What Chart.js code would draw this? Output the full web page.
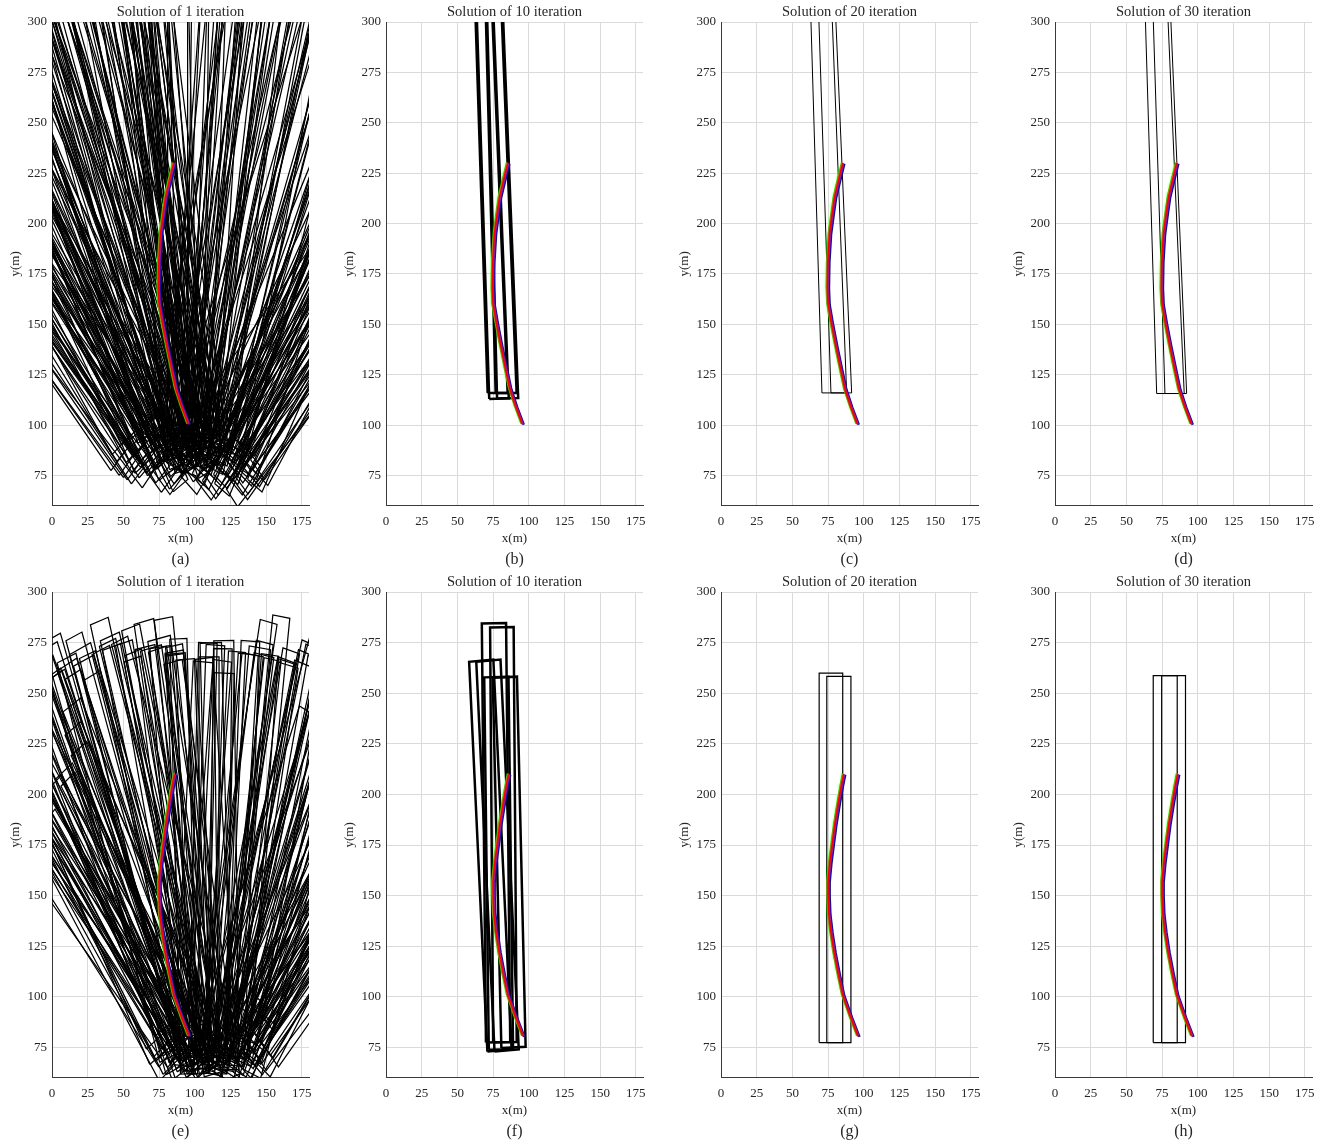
<!DOCTYPE html>
<html>
<head>
<meta charset="utf-8">
<script src="https://cdn.jsdelivr.net/npm/chart.js@4.4.1/dist/chart.umd.min.js"></script>
<style>
  body { margin: 0; background: #fff; overflow: hidden; }
  canvas { position: absolute; }
</style>
</head>
<body>
<script>
// axis ticks
var xTicks = [0, 25, 50, 75, 100, 125, 150, 175];
var yTicks = [75, 100, 125, 150, 175, 200, 225, 250, 275, 300];

var panelTitles = ['Solution of 1 iteration', 'Solution of 10 iteration', 'Solution of 20 iteration', 'Solution of 30 iteration',
                   'Solution of 1 iteration', 'Solution of 10 iteration', 'Solution of 20 iteration', 'Solution of 30 iteration'];
var panelLetters = ['(a)', '(b)', '(c)', '(d)', '(e)', '(f)', '(g)', '(h)'];

// trajectory, top row (x, y)
var redTop   = [[95.7,100.5],[91.2,109],[87,118],[84,128],[80.5,140],[77.5,151],[75.3,160],[74.8,168],[75.1,181],[76.3,195],[78.2,205],[79.8,213],[82.8,222],[85.6,230]];
var greenTop = [[94.9,100.8],[90.4,109.3],[86.2,118.3],[83.2,128.3],[79.7,140.3],[76.7,151.3],[74.5,160.3],[74,168.3],[74.3,181.3],[75.5,195.3],[77.4,205.3],[79,213.3],[82,222.3],[84.8,230.3]];
var blueTop  = [[96.5,100.2],[92,108.7],[87.8,117.7],[84.8,127.7],[81.3,139.7],[78.3,150.7],[76.1,159.7],[75.6,167.7],[75.9,180.7],[77.1,194.7],[79,204.7],[80.6,212.7],[83.6,221.7],[86.4,229.7]];

// trajectory, bottom row
var redBot   = [[96.2,80.5],[91,90],[85.5,101],[82.5,111],[79.5,122],[77.3,132],[75.8,141],[75.3,150],[75.3,157],[76.5,166],[78.5,177],[80,185],[82.5,196],[84.5,204],[86.2,210]];
var greenBot = [[95.4,80.8],[90.2,90.3],[84.7,101.3],[81.7,111.3],[78.7,122.3],[76.5,132.3],[75,141.3],[74.5,150.3],[74.5,157.3],[75.7,166.3],[77.7,177.3],[79.2,185.3],[81.7,196.3],[83.7,204.3],[85.4,210.3]];
var blueBot  = [[97,80.2],[91.8,89.7],[86.3,100.7],[83.3,110.7],[80.3,121.7],[78.1,131.7],[76.6,140.7],[76.1,149.7],[76.1,156.7],[77.3,165.7],[79.3,176.7],[80.8,184.7],[83.3,195.7],[85.3,203.7],[87,209.7]];

// beams: [base centre x, base centre y, tilt deg (+ = right), width, length]
// or quads: [[x,y] x4]
var beamLength = 320;
var rectsA = [
  [52,80,-45,14],[57,77,-44,12],[62,82,-42,16],[66,78,-40,13],[70,85,-43,15],[74,80,-38,12],[78,76,-41,14],[83,73,-45,18],
  [88,78,-36,12],[92,82,-39,14],[96,86,-34,13],[58,86,-37,15],[64,90,-35,12],[72,92,-33,14],[80,88,-31,16],[86,84,-30,12],
  [100,80,-32,14],[104,76,-40,13],[108,84,-28,15],[68,74,-47,14],
  [75,95,-26,14],[82,92,-24,12],[88,90,-22,15],[93,86,-25,13],[97,92,-20,14],[102,88,-18,12],[106,82,-23,16],[110,90,-16,13],
  [78,100,-19,12],[85,98,-15,14],[90,94,-13,15],[95,97,-11,12],[100,95,-14,13],[104,99,-9,14],[70,96,-21,12],[66,94,-27,13],
  [112,86,-12,15],[116,92,-10,12],[89,80,-17,14],[94,78,-14,16],
  [84,96,-6,13],[90,100,-4,12],[96,98,-2,14],[100,92,1,12],[104,96,3,13],[108,94,5,14],[92,88,-7,12],[98,84,6,15],[112,98,8,12],[88,92,0,14],
  [86,90,10,14],[80,86,12,12],[76,94,14,13],[90,84,16,14],[94,80,18,12],[98,88,20,15],[102,84,22,13],[84,80,24,14],
  [106,78,26,12],[110,86,15,14],[114,82,19,13],[92,92,11,12],[118,88,23,15],[122,84,27,12],[96,76,13,14],
  [104,72,35,14],[110,76,32,12],[115,80,38,15],[120,78,40,13],[125,80,42,14],[128,77,45,16],[133,70,44,12],[132,68,45,14],
  [112,70,46,13],[118,72,36,12],[123,86,33,14],[130,84,38,13],[100,74,30,15],[108,82,41,12],[140,74,40,14],[126,90,31,12],
  [116,88,34,13],[96,70,39,14],[135,82,47,12],[106,68,43,15],[76.6,71.6,45,17],
  [46,82,-44,13],[50,86,-41,12],[55,79,-46,14],[60,75,-43,12],[48,90,-38,15],[54,94,-36,13],[62,88,-40,12],[67,84,-45,14],
  [71,80,-36,13],[75,86,-42,12],[79,82,-34,14],[83,86,-40,13],[87,72,-38,12],[91,76,-43,15],[95,80,-46,12],[99,84,-37,14],
  [60,96,-30,12],[65,100,-28,14],[70,104,-25,13],[76,90,-29,12],[81,84,-27,15],[85,78,-26,12],[90,86,-28,13],[95,90,-27,14],
  [99,82,-25,12],[103,92,-30,13],[107,88,-21,14],[111,80,-25,12],[114,94,-22,13],[118,84,-19,15],[73,88,-23,12],[79,96,-21,13],
  [87,100,-18,14],[93,102,-24,12],[97,78,-22,13],[101,100,-26,14],
  [98,90,-10,13],[102,86,-12,12],[106,92,-8,14],[94,94,-9,12],[91,90,-11,13],[96,100,-7,14],[108,100,-13,12],[111,94,-15,13],
  [86,88,-8,12],[99,104,-6,14],[114,90,-14,12],[88,84,-12,13],[105,80,-10,14],[117,96,-16,12],[92,98,-5,13],
  [95,92,4,12],[99,96,7,13],[103,90,9,14],[107,98,11,12],[111,92,13,13],[115,96,16,14],[119,92,18,12],[88,96,6,13],
  [84,92,8,12],[101,80,10,14],[105,86,14,12],[109,82,17,13],[113,78,20,14],[97,84,12,12],[121,98,9,13],
  [117,82,22,12],[121,76,25,13],[124,74,28,14],[127,82,30,12],[131,78,33,13],[134,74,36,14],[138,80,39,12],[141,84,42,13],
  [144,78,45,14],[119,68,31,12],[113,74,37,13],[128,70,41,14],[122,90,26,12],[102,78,34,13],[136,88,29,14],[130,92,24,12],
  [110,68,44,13],[126,64,48,12],
  [72,78,-31,12],[76,82,-33,13],[81,76,-29,14],[84,88,-34,12],[68,86,-31,13],[64,80,-33,14],[90,70,-31,12],[59,92,-32,13],
  [108,76,-24,12],[113,86,-20,13],[120,90,-14,12],[126,86,15,13],[131,88,20,12],[137,76,25,14],[142,70,32,12],[146,74,37,13]
];
var rectsB = [
  [[71.2,116],[85.2,116],[73.5,320],[61.9,320]],
  [[76.8,116],[91.5,116],[80.1,320],[69.3,320]],
  [[72.3,113],[86,113.3],[74.3,320],[62.8,320]],
  [[77.8,113.2],[92.6,113.5],[81,320],[70.2,320]]
];
var rectsC = [
  [[70.7,116],[88,116],[76.9,320],[62.2,320]],
  [[77,116],[91.5,116],[79.3,320],[67.7,320]]
];
var rectsD = [
  [[71.2,115.7],[90.5,115.7],[78,320],[62.5,320]],
  [[77,115.7],[92.2,115.7],[80,320],[68,320]]
];
var rectsE = [
  [80,70,-42,14,210],[76,74,-38,12,220],[84,66,-35,15,215],[88,72,-40,13,205],[72,78,-33,14,200],[92,68,-36,12,225],
  [96,75,-31,16,210],[86,80,-44,13,195],[100,64,-33,14,220],[78,84,-30,12,205],[104,70,-38,15,200],[90,62,-29,13,230],
  [94,66,-26,14,215],[98,72,-24,12,205],[102,68,-22,16,220],[106,74,-20,13,210],[110,64,-18,14,225],[88,78,-25,12,200],
  [92,84,-21,15,195],[96,80,-17,13,215],[100,76,-14,12,205],[108,80,-12,14,210],[112,70,-15,13,220],[116,66,-11,16,215],
  [84,74,-27,14,220],[104,86,-19,12,200],[120,72,-13,13,205],
  [98,64,-6,15,210],[104,62,-3,13,205],[110,68,0,14,200],[116,76,4,12,195],[120,64,7,15,210],[108,74,-8,13,215],
  [114,70,2,14,190],[124,68,-5,12,200],[100,82,6,13,185],[118,80,-2,15,195],
  [112,62,10,14,210],[118,66,13,12,205],[122,72,16,15,200],[126,68,19,13,215],[130,74,22,14,205],[106,70,12,12,220],
  [114,78,15,13,195],[120,84,18,14,200],[128,80,25,12,210],[134,70,27,15,205],[110,76,21,13,215],[124,62,24,14,220],[138,78,14,12,195],
  [130,64,32,14,210],[136,68,35,12,205],[140,74,38,15,200],[144,80,42,13,195],[148,76,45,14,210],[126,72,33,12,215],
  [134,84,36,13,200],[142,66,40,14,205],[150,90,31,12,190],[138,90,44,15,200],[146,98,34,13,185],[132,60,30,14,220],
  [88,70,-24,13,222],[92,74,-27,14,215],[96,68,-21,12,225],[100,72,-25,15,212],[86,64,-22,13,230],[104,66,-28,12,218],
  [82,70,-20,14,210],[108,70,-23,13,205],[90,80,-19,12,200],[94,60,-26,14,228],
  [78,72,-36,13,210],[82,78,-41,12,200],[86,70,-45,14,205],[90,76,-34,12,215],[94,72,-39,13,200],[98,68,-43,14,210],
  [80,62,-37,12,220],[74,70,-32,13,205],[102,76,-35,12,195],[106,64,-41,14,215],
  [102,64,-10,14,212],[106,68,-14,12,205],[110,72,-7,13,200],[114,62,-12,15,215],[118,68,-9,12,208],[96,70,-15,13,210],
  [100,74,-4,14,196],[112,78,-16,12,200],[122,74,-11,13,195],[106,80,-6,12,190],
  [116,62,1,13,210],[120,70,5,14,200],[124,74,9,12,195],[128,66,3,13,210],[112,66,8,15,205],[108,64,11,12,215],
  [126,78,12,14,190],[132,72,6,12,198],[104,74,3,13,200],[118,72,14,12,205],
  [116,64,17,13,215],[120,60,20,14,222],[124,70,23,12,208],[128,64,26,13,212],[132,68,18,15,200],[136,74,21,12,205],
  [140,70,28,14,200],[112,72,24,13,210],[144,76,31,12,195],[130,82,16,14,198],
  [134,64,38,13,210],[138,70,41,12,205],[142,72,44,14,200],[146,68,47,12,210],[150,74,40,13,195],[140,84,46,12,190],
  [136,78,37,14,200],[152,86,43,12,190],[128,70,45,13,215],[144,92,39,12,185],
  [100,66,-40,13,160],[104,70,-37,12,170],[108,64,-34,14,178],[96,72,-42,12,150],[110,74,-31,13,185],[114,66,-36,12,175],
  [106,78,-29,14,190],[118,70,-33,13,182],[112,64,30,13,160],[116,70,34,12,150],[108,68,27,14,175],[120,74,38,12,145],
  [104,72,24,13,185],[96,62,-2,12,215],[102,70,2,13,205],[124,64,-1,14,212],[130,70,8,12,220],[92,66,4,14,200],
  [140,62,20,13,230],[148,64,36,12,220],[154,70,45,13,200],[126,60,-20,12,230]
];
var rectsF = [[78.5,77.6,-0.8,17,207],[83.3,77.6,-0.6,16.5,205],[79.5,73.5,-3.8,17,193],[84.5,73.5,-3.8,17,193],[80.5,74,-1,17,184],[89.3,75,-1.9,17,183]];
var rectsG = [[77,77.4,0,16.5,182.5],[82.55,77.4,0,16.9,180.9]];
var rectsH = [[77.2,77.4,0,16.8,181.3],[83.05,77.4,0,16.7,181.3]];

var allRects = [rectsA, rectsB, rectsC, rectsD, rectsE, rectsF, rectsG, rectsH];
var rectWidths = [1.25, 2.5, 1, 1, 1.25, 2.5, 1.2, 1.2];

var serif = "'Liberation Serif', 'Times New Roman', serif";
var textColor = '#262626';

function rectCorners(r) {
    if (Array.isArray(r[0])) {
        var q = r.map(function(p) { return {x: p[0], y: p[1]}; });
        q.push({x: r[0][0], y: r[0][1]});
        return q;
    }
    var cx = r[0], cy = r[1], th = r[2] * Math.PI / 180, w = r[3];
    var L = r.length > 4 ? r[4] : beamLength;
    var ux = Math.sin(th), uy = Math.cos(th);   // along the beam
    var vx = Math.cos(th), vy = -Math.sin(th);  // across the beam
    var p0 = {x: cx - vx * w / 2, y: cy - vy * w / 2};
    var p1 = {x: cx + vx * w / 2, y: cy + vy * w / 2};
    var p2 = {x: p1.x + ux * L, y: p1.y + uy * L};
    var p3 = {x: p0.x + ux * L, y: p0.y + uy * L};
    return [p0, p1, p2, p3, {x: p0.x, y: p0.y}];
}

function toPts(arr) {
    return arr.map(function(p) { return {x: p[0], y: p[1]}; });
}

function lineSet(data, color, width) {
    return {data: data, borderColor: color, backgroundColor: color, borderWidth: width,
            showLine: true, pointRadius: 0, fill: false, tension: 0};
}

var colLeft = [0, 334, 669, 1003];
var rowTop = [0, 570];
var rowHeight = [572, 574];

for (var i = 0; i < 8; i++) {
    var row = Math.floor(i / 4), col = i % 4;
    var cv = document.createElement('canvas');
    cv.width = 320;
    cv.height = rowHeight[row];
    cv.style.left = colLeft[col] + 'px';
    cv.style.top = rowTop[row] + 'px';
    document.body.appendChild(cv);

    var red = row == 0 ? redTop : redBot;
    var green = row == 0 ? greenTop : greenBot;
    var blue = row == 0 ? blueTop : blueBot;

    // first dataset is painted last, so the red path goes first
    var datasets = [lineSet(toPts(red), '#ff0000', 2.5), lineSet(toPts(blue), '#0000ff', 2.5), lineSet(toPts(green), '#00e000', 2.5)];
    allRects[i].forEach(function(r) {
        datasets.push(lineSet(rectCorners(r), '#000000', rectWidths[i]));
    });

    new Chart(cv, {
        type: 'scatter',
        data: {datasets: datasets},
        options: {
            responsive: false,
            animation: false,
            events: [],
            layout: {padding: {left: 0, right: 11, top: 0, bottom: 1}},
            plugins: {
                legend: {display: false},
                tooltip: {enabled: false},
                title: {display: true, text: panelTitles[i], fullSize: false, color: textColor,
                        font: {family: serif, size: 14.5, weight: 'normal'}, padding: {top: 3.5, bottom: 1.1}},
                subtitle: {display: true, position: 'bottom', text: panelLetters[i], fullSize: false, color: textColor,
                           font: {family: serif, size: 16, weight: 'normal'}, padding: {top: 3, bottom: 2}}
            },
            scales: {
                x: {
                    type: 'linear', min: 0, max: 180,
                    afterBuildTicks: function(s) { s.ticks = xTicks.map(function(v) { return {value: v}; }); },
                    afterFit: function(s) { s.height = 41; },
                    grid: {color: '#dadada', drawTicks: false},
                    border: {color: '#3a3a3a', width: 1},
                    ticks: {padding: 8, color: textColor, maxRotation: 0, autoSkip: false, font: {family: serif, size: 13}},
                    title: {display: true, text: 'x(m)', color: textColor, font: {family: serif, size: 13}, padding: 0}
                },
                y: {
                    type: 'linear', min: 60, max: 300,
                    afterBuildTicks: function(s) { s.ticks = yTicks.map(function(v) { return {value: v}; }); },
                    afterFit: function(s) { s.width = 52; },
                    grid: {color: '#dadada', drawTicks: false},
                    border: {color: '#3a3a3a', width: 1},
                    ticks: {padding: 5, color: textColor, autoSkip: false, font: {family: serif, size: 13}},
                    title: {display: true, text: 'y(m)', color: textColor, font: {family: serif, size: 13}, padding: {top: 8, bottom: 0}}
                }
            }
        }
    });
}
</script>
</body>
</html>
